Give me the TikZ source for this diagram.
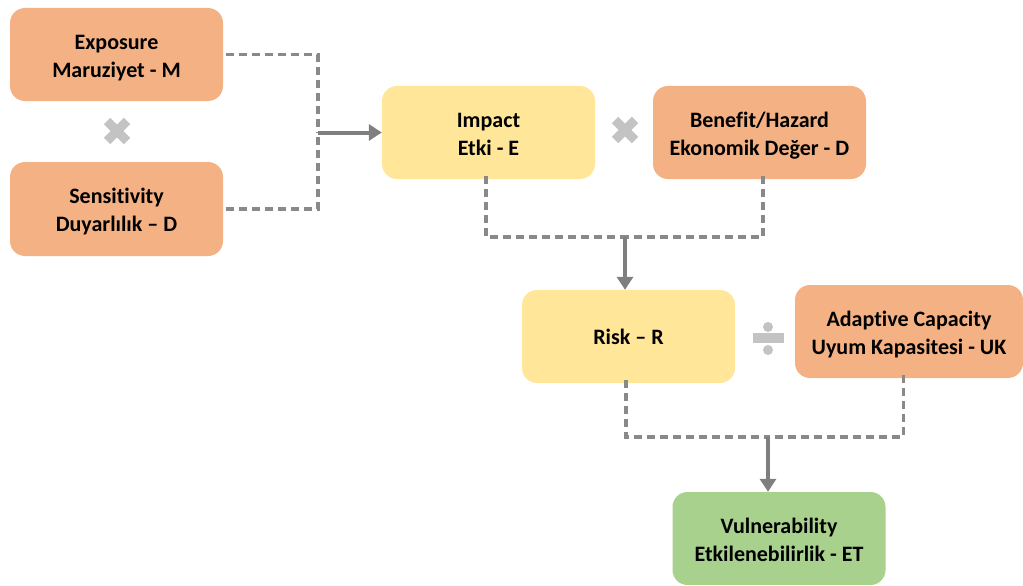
\documentclass[tikz,border=0pt]{standalone}
\usepackage{fontspec}
\setmainfont{Carlito}[Ligatures=NoCommon]
\usetikzlibrary{arrows.meta}
\definecolor{boxorange}{HTML}{F4B183}
\definecolor{boxyellow}{HTML}{FFE699}
\definecolor{boxgreen}{HTML}{A9D18E}
\definecolor{linegray}{HTML}{898989}
\definecolor{arrowgray}{HTML}{7F7F7F}
\definecolor{symgray}{HTML}{C3C3C3}
\newcommand\twol[2]{\raisebox{-3pt}[\height][\depth]{\begin{tabular}{@{}c@{}}#1\\#2\end{tabular}}}
\tikzset{
  box/.style={rounded corners=15pt, minimum width=213pt, minimum height=93pt, inner sep=0pt,
    align=center, font=\fontsize{22}{28}\selectfont\bfseries, text=black},
  orangebox/.style={box, fill=boxorange},
  yellowbox/.style={box, fill=boxyellow},
  greenbox/.style={box, fill=boxgreen},
  dashline/.style={draw=linegray, line width=3.2pt, dash pattern=on 8pt off 5pt},
  flowarrow/.style={draw=arrowgray, line width=4pt, -{Triangle[length=13pt,width=16pt]}},
  timesbar/.style={draw=symgray, line width=9pt},
}
\begin{document}
\begin{tikzpicture}[x=1pt,y=-1pt]
\useasboundingbox (0,0) rectangle (1023,586);
\node[orangebox] (ex) at (116.5,54.5) {\twol{Exposure}{Maruziyet - M}};
\node[orangebox, minimum height=94pt] (se) at (116.5,209) {\twol{Sensitivity}{Duyarlılık – D}};
\node[yellowbox] (im) at (488.5,132.5) {\twol{Impact}{Etki - E}};
\node[orangebox] (be) at (759.5,132.5) {\twol{Benefit/Hazard}{Ekonomik Değer - D}};
\node[yellowbox] (ri) at (628.5,336.5) {Risk – R};
\node[orangebox, minimum width=228pt] (ad) at (909,331.5) {\twol{Adaptive Capacity}{Uyum Kapasitesi - UK}};
\node[greenbox] (vu) at (779,538.5) {\twol{Vulnerability}{Etkilenebilirlik - ET}};
% multiplication signs
\draw[timesbar] (107,121) -- (127,141) (107,141) -- (127,121);
\draw[timesbar] (615,120) -- (635,140) (615,140) -- (635,120);
% division sign
\fill[symgray] (753,333) rectangle (784,343);
\fill[symgray] (768,327) circle (5pt) (768,350) circle (5pt);
% junctions
\coordinate (j1) at (318,132.5);
\coordinate (j2) at (625,237);
\coordinate (j3) at (768,437);
% connectors
\draw[dashline] ([xshift=3pt]ex.east) -| (j1);
\draw[dashline] ([xshift=3pt]se.east) -| (j1);
\draw[flowarrow] (j1) -- (im.west);
\draw[dashline] ([xshift=-2.5pt,yshift=3pt]im.south) |- (j2);
\draw[dashline] ([xshift=3.5pt,yshift=3pt]be.south) |- (j2);
\draw[flowarrow] (j2) -- (j2 |- ri.north);
\draw[dashline] ([xshift=-2.5pt,yshift=3pt]ri.south) |- (j3);
\draw[dashline] ([xshift=-5.5pt,yshift=3pt]ad.south) |- (j3);
\draw[flowarrow] (j3) -- (j3 |- vu.north);
\end{tikzpicture}
\end{document}
